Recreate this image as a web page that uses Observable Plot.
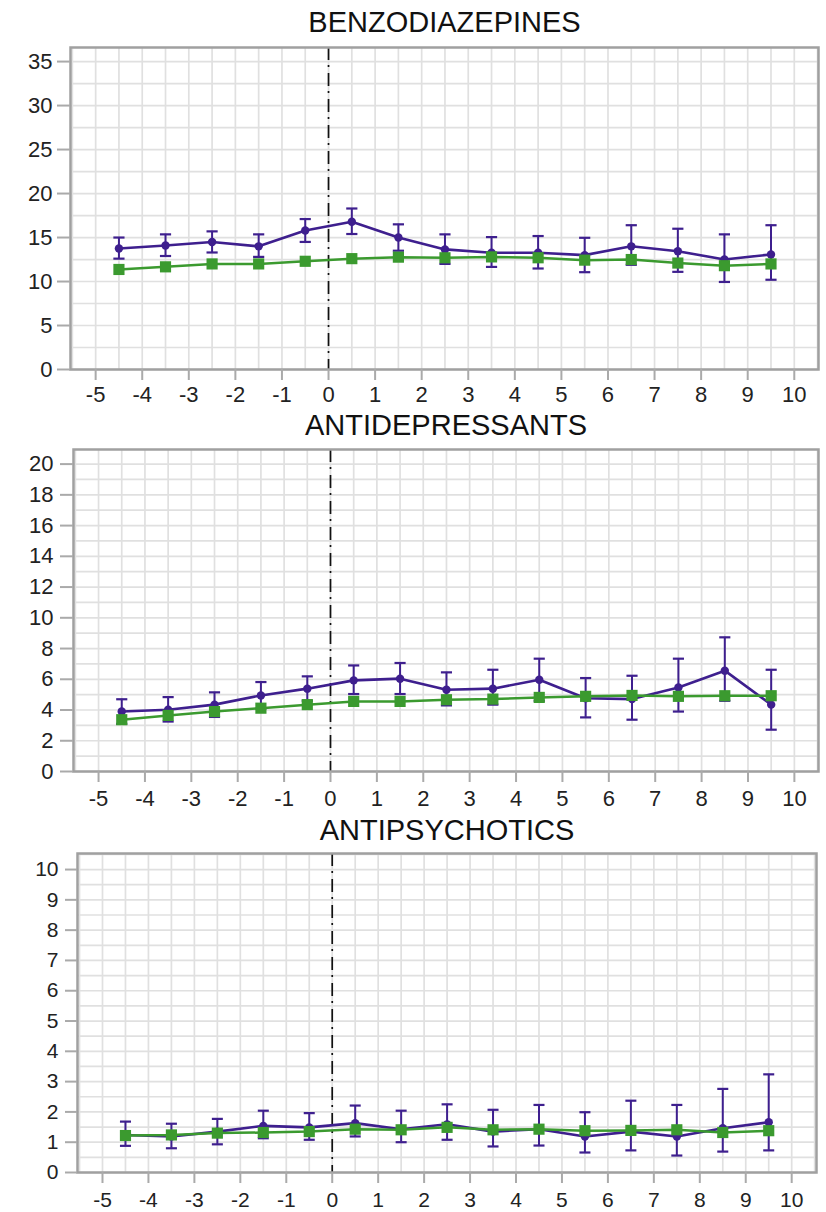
<!DOCTYPE html>
<html>
<head>
<meta charset="utf-8">
<script src="https://cdn.jsdelivr.net/npm/d3@7"></script>
<script src="https://cdn.jsdelivr.net/npm/@observablehq/plot@0.6"></script>
<style>
  html, body { margin: 0; padding: 0; background: #fff; }
  #root { position: relative; width: 826px; height: 1212px; background: #fff; overflow: hidden; }
  .panel { position: absolute; left: 0; }
  .panel svg { display: block; overflow: visible; }
</style>
</head>
<body>
<div id="root"></div>
<script>
// ---- data ----
const weeks = [-4.5, -3.5, -2.5, -1.5, -0.5, 0.5, 1.5, 2.5, 3.5, 4.5, 5.5, 6.5, 7.5, 8.5, 9.5];
const xTicks = [-5, -4, -3, -2, -1, 0, 1, 2, 3, 4, 5, 6, 7, 8, 9, 10];

const titles = ["BENZODIAZEPINES", "ANTIDEPRESSANTS", "ANTIPSYCHOTICS"];

const benzoMean = [13.76, 14.1, 14.5, 14.0, 15.8, 16.8, 15.0, 13.65, 13.27, 13.27, 13.0, 14.0, 13.45, 12.5, 13.08];
const benzoHi   = [15.0, 15.36, 15.7, 15.36, 17.1, 18.3, 16.5, 15.36, 15.05, 15.17, 14.97, 16.4, 16.0, 15.36, 16.4];
const benzoLo   = [12.6, 12.9, 13.3, 12.8, 14.5, 15.4, 13.5, 12.0, 11.66, 11.48, 11.06, 11.9, 11.1, 9.95, 10.2];
const benzoRef  = [11.37, 11.67, 12.0, 12.0, 12.3, 12.6, 12.77, 12.7, 12.8, 12.7, 12.43, 12.5, 12.1, 11.8, 12.0];
const benzoYTicks = [0, 5, 10, 15, 20, 25, 30, 35];

const antidepMean = [3.9, 4.02, 4.35, 4.95, 5.39, 5.93, 6.04, 5.32, 5.39, 5.97, 4.77, 4.71, 5.47, 6.56, 4.35];
const antidepHi   = [4.7, 4.84, 5.15, 5.82, 6.19, 6.9, 7.06, 6.45, 6.62, 7.34, 6.08, 6.23, 7.34, 8.73, 6.62];
const antidepLo   = [3.1, 3.25, 3.55, 4.1, 4.6, 5.04, 5.04, 4.3, 4.35, 4.6, 3.52, 3.37, 3.9, 4.6, 2.72];
const antidepRef  = [3.37, 3.65, 3.9, 4.12, 4.35, 4.56, 4.56, 4.67, 4.71, 4.82, 4.89, 4.95, 4.89, 4.93, 4.93];
const antidepYTicks = [0, 2, 4, 6, 8, 10, 12, 14, 16, 18, 20];

const antipsyMean = [1.24, 1.19, 1.35, 1.54, 1.49, 1.63, 1.43, 1.59, 1.35, 1.43, 1.19, 1.35, 1.19, 1.46, 1.66];
const antipsyHi   = [1.68, 1.61, 1.77, 2.04, 1.96, 2.21, 2.04, 2.25, 2.07, 2.23, 1.99, 2.37, 2.23, 2.76, 3.24];
const antipsyLo   = [0.88, 0.8, 0.93, 1.13, 1.08, 1.19, 1.0, 1.08, 0.86, 0.89, 0.66, 0.73, 0.56, 0.69, 0.73];
const antipsyRef  = [1.22, 1.24, 1.3, 1.32, 1.35, 1.43, 1.41, 1.49, 1.41, 1.43, 1.38, 1.39, 1.41, 1.32, 1.38];
const antipsyYTicks = [0, 1, 2, 3, 4, 5, 6, 7, 8, 9, 10];

// ---- styling ----
const PURPLE = "#3e1f8e";
const GREEN = "#3b9a2f";
const GRID = "#e0e0e0";
const FRAME = "#a0a0a0";
const FONT = "'Liberation Sans', Arial, Helvetica, sans-serif";

const panels = [
  { title: titles[0], mean: benzoMean, hi: benzoHi, lo: benzoLo, ref: benzoRef, yTicks: benzoYTicks,
    yGridStep: 2.5, yMax: 36.6, top: 0, height: 410, mt: 47, mb: 41, ml: 70, mr: 8,
    xMin: -5.54, xMax: 10.52, titleDy: -25, yTickSize: 13, yTickPad: 5, xTickSize: 11, xTickPad: 6, fs: 22 },
  { title: titles[1], mean: antidepMean, hi: antidepHi, lo: antidepLo, ref: antidepRef, yTicks: antidepYTicks,
    yGridStep: 1, yMax: 20.95, top: 410, height: 400, mt: 39, mb: 39, ml: 73, mr: 8,
    xMin: -5.54, xMax: 10.52, titleDy: -24, yTickSize: 13, yTickPad: 7, xTickSize: 11, xTickPad: 8, fs: 22 },
  { title: titles[2], mean: antipsyMean, hi: antipsyHi, lo: antipsyLo, ref: antipsyRef, yTicks: antipsyYTicks,
    yGridStep: 0.5, yMax: 10.53, top: 810, height: 402, mt: 43, mb: 40, ml: 77, mr: 10,
    xMin: -5.544, xMax: 10.54, titleDy: -23, yTickSize: 12, yTickPad: 7, xTickSize: 11, xTickPad: 9, fs: 21 }
];

const root = document.getElementById("root");

for (const p of panels) {
  const rows = weeks.map((w, i) => ({ week: w, mean: p.mean[i], hi: p.hi[i], lo: p.lo[i], ref: p.ref[i] }));
  const xGrid = d3.range(-11, 22).map(k => k / 2);
  const yGrid = d3.range(0, Math.floor(p.yMax / p.yGridStep) + 1).map(k => k * p.yGridStep);
  const capHalf = 0.12;

  const chart = Plot.plot({
    width: 826,
    height: p.height,
    marginTop: p.mt,
    marginBottom: p.mb,
    marginLeft: p.ml,
    marginRight: p.mr,
    style: { fontFamily: FONT, background: "transparent", color: "#222", overflow: "visible" },
    x: { domain: [p.xMin, p.xMax], label: null },
    y: { domain: [0, p.yMax], label: null },
    marks: [
      Plot.gridX(xGrid, { stroke: GRID, strokeOpacity: 1, strokeWidth: 1.7 }),
      Plot.gridY(yGrid, { stroke: GRID, strokeOpacity: 1, strokeWidth: 1.7 }),
      Plot.ruleX([0], { stroke: "#111", strokeWidth: 1.7, strokeDasharray: "13,5,2,6" }),
      // purple series with error bars
      Plot.ruleX(rows, { x: "week", y1: "lo", y2: "hi", stroke: PURPLE, strokeWidth: 2 }),
      Plot.link(rows, { x1: d => d.week - capHalf, x2: d => d.week + capHalf, y1: "hi", y2: "hi", stroke: PURPLE, strokeWidth: 2.2 }),
      Plot.link(rows, { x1: d => d.week - capHalf, x2: d => d.week + capHalf, y1: "lo", y2: "lo", stroke: PURPLE, strokeWidth: 2.2 }),
      Plot.line(rows, { x: "week", y: "mean", stroke: PURPLE, strokeWidth: 2.6 }),
      Plot.dot(rows, { x: "week", y: "mean", r: 4.2, fill: PURPLE, stroke: "none" }),
      // green reference series
      Plot.line(rows, { x: "week", y: "ref", stroke: GREEN, strokeWidth: 2.5 }),
      Plot.dot(rows, { x: "week", y: "ref", symbol: "square", r: 6.3, fill: GREEN, stroke: "none" }),
      Plot.frame({ stroke: FRAME, strokeWidth: 2.5 }),
      Plot.axisX({ ticks: xTicks, tickFormat: d => String(d), tickSize: p.xTickSize, tickPadding: p.xTickPad,
        stroke: "#aaa", strokeWidth: 2, fill: "#222", fontSize: p.fs, fontFamily: FONT, label: null }),
      Plot.axisY({ ticks: p.yTicks, tickFormat: d => String(d), tickSize: p.yTickSize, tickPadding: p.yTickPad,
        stroke: "#aaa", strokeWidth: 2, fill: "#222", fontSize: p.fs, fontFamily: FONT, label: null }),
      Plot.text([p.title], { frameAnchor: "top", dy: p.titleDy, lineAnchor: "middle", fontSize: 29,
        fontFamily: FONT, fill: "#111" })
    ]
  });

  const holder = document.createElement("div");
  holder.className = "panel";
  holder.style.top = p.top + "px";
  holder.appendChild(chart);
  root.appendChild(holder);
}
</script>
</body>
</html>
